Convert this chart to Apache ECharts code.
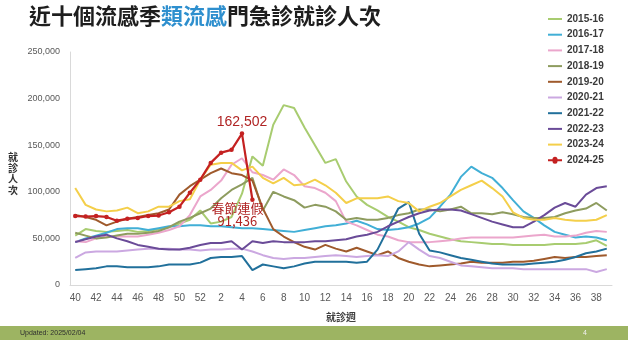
<!DOCTYPE html>
<html><head><meta charset="utf-8">
<style>html,body{margin:0;padding:0;background:#fff}#c{width:628px;height:361px}</style>
<script src="https://cdn.jsdelivr.net/npm/echarts/dist/echarts.min.js"></script>
</head><body><div id="c"></div>
<script>
const weeks = ['40','41','42','43','44','45','46','47','48','49','50','51','52','1','2','3','4','5','6','7','8','9','10','11','12','13','14','15','16','17','18','19','20','21','22','23','24','25','26','27','28','29','30','31','32','33','34','35','36','37','38','39'];
const seasons = ['2015-16','2016-17','2017-18','2018-19','2019-20','2020-21','2021-22','2022-23','2023-24','2024-25'];
const yTicks = [0, 50000, 100000, 150000, 200000, 250000];

const s2015_16 = [53000,60000,58000,57000,58000,59000,57000,58000,60000,62000,66000,70000,80000,66000,68000,73000,98000,138000,128000,172000,193000,190000,169000,150000,131000,135000,111000,95000,86000,80000,73000,68000,62000,59000,55000,52000,49000,47000,46000,45000,44000,44000,43000,43000,43000,43000,44000,44000,44000,45000,48000,42000];
const s2016_17 = [46000,50000,53000,56000,60000,61000,61000,59000,61000,63000,63000,64000,64000,63000,63000,62000,61000,61000,60000,59000,58000,57000,59000,61000,63000,64000,66000,69000,65000,60000,59000,60000,62000,66000,72000,84000,97000,116000,127000,120000,115000,104000,91000,79000,72000,64000,57000,54000,51000,52000,51000,48000];
const s2017_18 = [47000,46000,50000,52000,52000,52000,52000,54000,56000,59000,63000,75000,95000,102000,112000,129000,136000,121000,118000,113000,124000,118000,106000,104000,99000,90000,68000,64000,59000,54000,52000,48000,46000,46000,46000,47000,48000,50000,51000,51000,51000,51000,51000,52000,53000,54000,52000,52000,53000,56000,58000,57000];
const s2018_19 = [56000,53000,50000,51000,53000,55000,55000,56000,58000,62000,68000,72000,77000,82000,93000,102000,108000,115000,80000,100000,95000,91000,83000,86000,84000,79000,70000,72000,70000,70000,72000,75000,77000,81000,81000,79000,81000,84000,77000,77000,76000,78000,76000,73000,72000,72000,73000,77000,80000,82000,88000,80000];
const s2019_20 = [75000,73000,70000,64000,68000,71000,73000,75000,77000,81000,97000,106000,113000,120000,125000,120000,118000,112000,82000,60000,52000,46000,41000,38000,43000,39000,36000,40000,36000,32000,36000,29000,25000,22000,20000,21000,22000,23000,25000,24000,24000,24000,25000,25000,26000,28000,30000,29000,30000,30000,31000,32000];
const s2020_21 = [29000,35000,36000,36000,36000,37000,38000,39000,39000,39000,38000,38000,37000,38000,38000,39000,39000,36000,32000,29000,28000,29000,29000,30000,31000,32000,31000,30000,31000,32000,31000,36000,46000,38000,31000,29000,25000,21000,20000,19000,18000,18000,18000,17000,17000,17000,17000,17000,17000,17000,14000,17000];
const s2021_22 = [16000,17000,18000,20000,20000,19000,19000,19000,20000,22000,22000,22000,24000,29000,30000,30000,31000,16000,22000,20000,18000,20000,23000,25000,25000,25000,25000,24000,25000,38000,60000,82000,89000,55000,37000,35000,32000,29000,27000,25000,23000,22000,22000,22000,23000,24000,25000,27000,30000,34000,36000,39000];
const s2022_23 = [46000,49000,52000,54000,50000,47000,43000,41000,39000,38000,38000,40000,43000,45000,45000,47000,38000,47000,45000,47000,46000,46000,46000,47000,47000,48000,49000,52000,54000,57000,63000,68000,73000,77000,80000,81000,81000,80000,76000,72000,68000,65000,62000,62000,68000,75000,83000,88000,84000,97000,104000,106000];
const s2023_24 = [104000,86000,81000,79000,80000,83000,77000,79000,84000,84000,90000,92000,113000,129000,131000,131000,123000,127000,115000,109000,115000,107000,108000,113000,107000,99000,88000,93000,93000,93000,95000,90000,88000,79000,84000,88000,95000,102000,107000,112000,104000,95000,78000,72000,70000,70000,72000,70000,69000,69000,70000,75000];
const s2024_25 = [74000,73500,74000,73000,69000,71000,72000,74000,74500,78000,84000,99000,113000,131000,142000,145000,162502,91436];
const holidayNote = '春節連假';

const seriesData = [s2015_16,s2016_17,s2017_18,s2018_19,s2019_20,s2020_21,s2021_22,s2022_23,s2023_24,s2024_25];
const colors = ['#A8CC70','#41AFD6','#EBA6CC','#8E9C5F','#9F5A2C','#CBA8E1','#21709B','#6A4B98','#F4CF4A','#C42121'];

const fmt = v => Number(v).toLocaleString('en-US');
const cjk = "'Noto Sans CJK TC','Noto Sans',sans-serif";
const num = "'Liberation Sans','DejaVu Sans',sans-serif";

const cur = s2024_25;
let peakIdx = 0; cur.forEach((v,i)=>{ if (v > cur[peakIdx]) peakIdx = i; });
const lastIdx = cur.length - 1;

const lineIcon = 'path://M0,0H14V2H0Z';
const dotLineIcon = 'path://M0,4H4.5A2.5,2.5,0,0,1,9.5,4H14V6H9.5A2.5,2.5,0,0,1,4.5,6H0Z';

const series = seasons.map((name, k) => {
  const isCur = k === seasons.length - 1;
  const s = {
    name, type: 'line', data: seriesData[k], smooth: false,
    lineStyle: { width: isCur ? 2.2 : 2, color: colors[k] },
    itemStyle: { color: colors[k] },
    symbol: isCur ? 'circle' : 'none', symbolSize: 4.5, showSymbol: isCur,
    z: isCur ? 10 : 2, animation: false, emphasis: { disabled: true }
  };
  if (isCur) {
    s.data = cur.map((v, i) => {
      if (i === peakIdx) return { value: v, label: { show: true, position: 'top', distance: 2, formatter: p => fmt(p.value), color: '#B02424', fontSize: 14, fontFamily: num, lineHeight: 14 } };
      if (i === lastIdx) return { value: v, label: { show: true, position: 'bottom', distance: 0, offset: [-15, 0], formatter: p => holidayNote + '\n' + fmt(p.value), color: '#B02424', fontSize: 13, fontFamily: cjk, lineHeight: 13, align: 'center' } };
      return v;
    });
  }
  return s;
});

const chart = echarts.init(document.getElementById('c'), null, { renderer: 'canvas' });
chart.setOption({
  backgroundColor: '#ffffff',
  animation: false,
  color: colors,
  grid: { left: 70, right: 16, top: 52, bottom: 76, containLabel: false },
  legend: {
    orient: 'vertical', left: 543, top: 9, itemWidth: 14, itemHeight: 10, itemGap: 5.7,
    symbolKeepAspect: true,
    textStyle: { fontSize: 10, fontWeight: 'bold', color: '#3A3A3A', fontFamily: num, lineHeight: 10 },
    data: seasons.map((n, k) => ({ name: n, icon: k === seasons.length - 1 ? dotLineIcon : lineIcon }))
  },
  xAxis: {
    type: 'category', data: weeks, boundaryGap: true,
    name: '就診週', nameLocation: 'middle', nameGap: 27,
    nameTextStyle: { fontSize: 10, fontWeight: 'bold', color: '#404040', fontFamily: cjk },
    axisLine: { lineStyle: { color: '#D9D9D9', width: 1 } },
    axisTick: { show: false },
    axisLabel: { interval: 1, fontSize: 10, color: '#595959', margin: 8, fontFamily: num }
  },
  yAxis: {
    type: 'value', min: yTicks[0], max: yTicks[yTicks.length-1], interval: yTicks[1]-yTicks[0],
    axisLine: { show: true, lineStyle: { color: '#D9D9D9', width: 1 } },
    axisTick: { show: false },
    splitLine: { show: false },
    axisLabel: { fontSize: 9, color: '#595959', margin: 10, fontFamily: num, formatter: v => fmt(v) }
  },
  graphic: [
    { type: 'text', left: 29, top: 5, style: {
      text: '{a|近十個流感季}{b|類流感}{a|門急診就診人次}',
      rich: {
        a: { fontSize: 22, fontWeight: 'bold', fill: '#1E1E1E', fontFamily: cjk },
        b: { fontSize: 22, fontWeight: 'bold', fill: '#2E8FCE', fontFamily: cjk }
      } } },
    { type: 'text', x: 13, y: 174, style: { text: '就\n診\n人\n次', fontSize: 10, fontWeight: 'bold', lineHeight: 11, fill: '#333', fontFamily: cjk, align: 'center', verticalAlign: 'middle' } },
    { type: 'rect', shape: { x: 0, y: 326, width: 628, height: 14 }, style: { fill: '#9DB462' } },
    { type: 'text', x: 20, y: 333, style: { text: 'Updated: 2025/02/04', fontSize: 7, fill: '#2F2F2F', fontFamily: num, verticalAlign: 'middle' } },
    { type: 'text', x: 583, y: 333, style: { text: '4', fontSize: 7, fill: '#F2F2F2', fontFamily: num, verticalAlign: 'middle' } }
  ],
  series
});
</script>
</body></html>
